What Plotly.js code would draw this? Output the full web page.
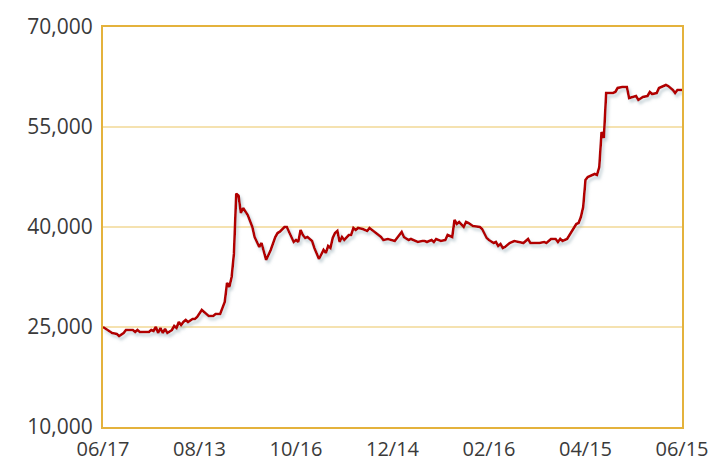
<!DOCTYPE html>
<html>
<head>
<meta charset="utf-8">
<script src="https://cdn.plot.ly/plotly-3.0.1.min.js"></script>
<style>
  html, body { margin: 0; padding: 0; background: #fff; }
  #chart { width: 720px; height: 474px; }
</style>
</head>
<body>
<div id="chart"></div>
<script>
// trading-day index of each vertex
const dayIndex = [0,2,4,6,7,9,10,13,14,15,16,20,21,22,23,24,25,26,27,28,30,31,32,33,34,35,36,37,39,40,41,43,44,46,48,49,51,53,54,55,56,57,58,59,60,61,63,65,66,67,68,69,71,73,75,76,77,79,80,81,83,84,85,86,87,88,89,91,92,94,95,96,97,98,99,100,101,102,103,104,105,107,108,109,110,111,113,115,116,118,121,122,124,127,128,130,131,133,134,136,137,139,140,141,143,144,145,147,149,150,152,153,154,155,157,158,159,161,164,165,167,168,170,171,172,173,174,175,177,179,181,182,183,185,186,190,192,193,195,197,198,199,200,202,203,205,206,207,208,209,210,211,213,214,215,216,217,218,219,222,223,224,226,228,229,231,232,233,235,237,238,239,241,242,245,246,248,249,250,252];
const price = [25000,24550,24100,23950,23650,24100,24550,24550,24250,24550,24250,24250,24550,24400,25000,24100,24850,24100,24700,24100,24550,25150,24850,25750,25300,25750,26050,25750,26200,26200,26500,27550,27250,26650,26650,26950,26950,28750,31600,31000,32500,36000,45000,44700,42100,42850,41800,40000,38500,37750,37000,37600,35050,36550,38500,39100,39300,40000,40000,39250,37750,38050,37750,39550,38800,38350,38500,37900,36850,35200,35800,36550,36100,37150,36850,38350,39100,39400,37750,38500,38050,38800,38800,39850,39550,39850,39700,39400,39850,39250,38500,38050,38200,37900,38350,39250,38500,38050,38200,37900,37750,37900,37900,37750,38050,37750,38200,37900,38050,38800,38500,41050,40450,40750,40000,40750,40600,40150,40000,39700,38350,38050,37600,37750,37150,37450,36850,37000,37600,37900,37750,37600,37600,38200,37600,37600,37750,37600,38200,38200,37750,38200,37900,38200,38800,39850,40450,40600,41500,43000,47050,47500,47800,47950,47800,49000,54250,53350,60100,60100,60250,60850,61000,61000,59350,59500,59650,59050,59500,59650,60250,59950,60100,60850,61300,61150,60550,60100,60550,60550];

const xTickPos = [0,42,84,126,168,210,252];
const xTickText = ['06/17','08/13','10/16','12/14','02/16','04/15','06/15'];
const yTickVals = [10000,25000,40000,55000,70000];
const yTickText = ['10,000','25,000','40,000','55,000','70,000'];

const trace = {
  x: dayIndex,
  y: price,
  type: 'scatter',
  mode: 'lines',
  line: {color: '#b10000', width: 2.6},
  hoverinfo: 'skip'
};

const layout = {
  width: 720,
  height: 474,
  margin: {l: 103, r: 38, t: 27, b: 47},
  paper_bgcolor: '#ffffff',
  plot_bgcolor: '#ffffff',
  showlegend: false,
  font: {family: '"Open Sans", sans-serif', color: '#3a3a3a'},
  xaxis: {
    range: [0, 252],
    tickvals: xTickPos,
    ticktext: xTickText,
    showgrid: false,
    zeroline: false,
    showline: true,
    mirror: true,
    linecolor: '#e4b23c',
    linewidth: 2,
    ticks: 'outside',
    ticklen: 3,
    tickcolor: 'rgba(0,0,0,0)',
    tickfont: {size: 20, color: '#3a3a3a'}
  },
  yaxis: {
    range: [10000, 70000],
    tickvals: yTickVals,
    ticktext: yTickText,
    showgrid: true,
    gridcolor: '#f5e2b0',
    gridwidth: 1.5,
    zeroline: false,
    showline: true,
    mirror: true,
    linecolor: '#e4b23c',
    linewidth: 2,
    ticks: 'outside',
    ticklen: 4,
    tickcolor: 'rgba(0,0,0,0)',
    tickfont: {size: 21, color: '#3a3a3a'}
  }
};

Plotly.newPlot('chart', [trace], layout, {staticPlot: true}).then(function (gd) {
  const svg = gd.querySelector('svg.main-svg');
  const ns = 'http://www.w3.org/2000/svg';
  let defs = svg.querySelector('defs');
  if (!defs) { defs = document.createElementNS(ns, 'defs'); svg.insertBefore(defs, svg.firstChild); }
  const f = document.createElementNS(ns, 'filter');
  f.setAttribute('id', 'lineShadow');
  f.setAttribute('x', '-10%'); f.setAttribute('y', '-10%');
  f.setAttribute('width', '120%'); f.setAttribute('height', '130%');
  f.innerHTML = '<feGaussianBlur in="SourceAlpha" stdDeviation="1.6"/>' +
    '<feOffset dx="2" dy="3" result="ob"/>' +
    '<feFlood flood-color="#9fb4bd" flood-opacity="0.6"/>' +
    '<feComposite in2="ob" operator="in"/>' +
    '<feMerge><feMergeNode/><feMergeNode in="SourceGraphic"/></feMerge>';
  defs.appendChild(f);
  gd.querySelectorAll('.scatterlayer path.js-line').forEach(function (p) {
    p.setAttribute('filter', 'url(#lineShadow)');
  });
});
</script>
</body>
</html>
